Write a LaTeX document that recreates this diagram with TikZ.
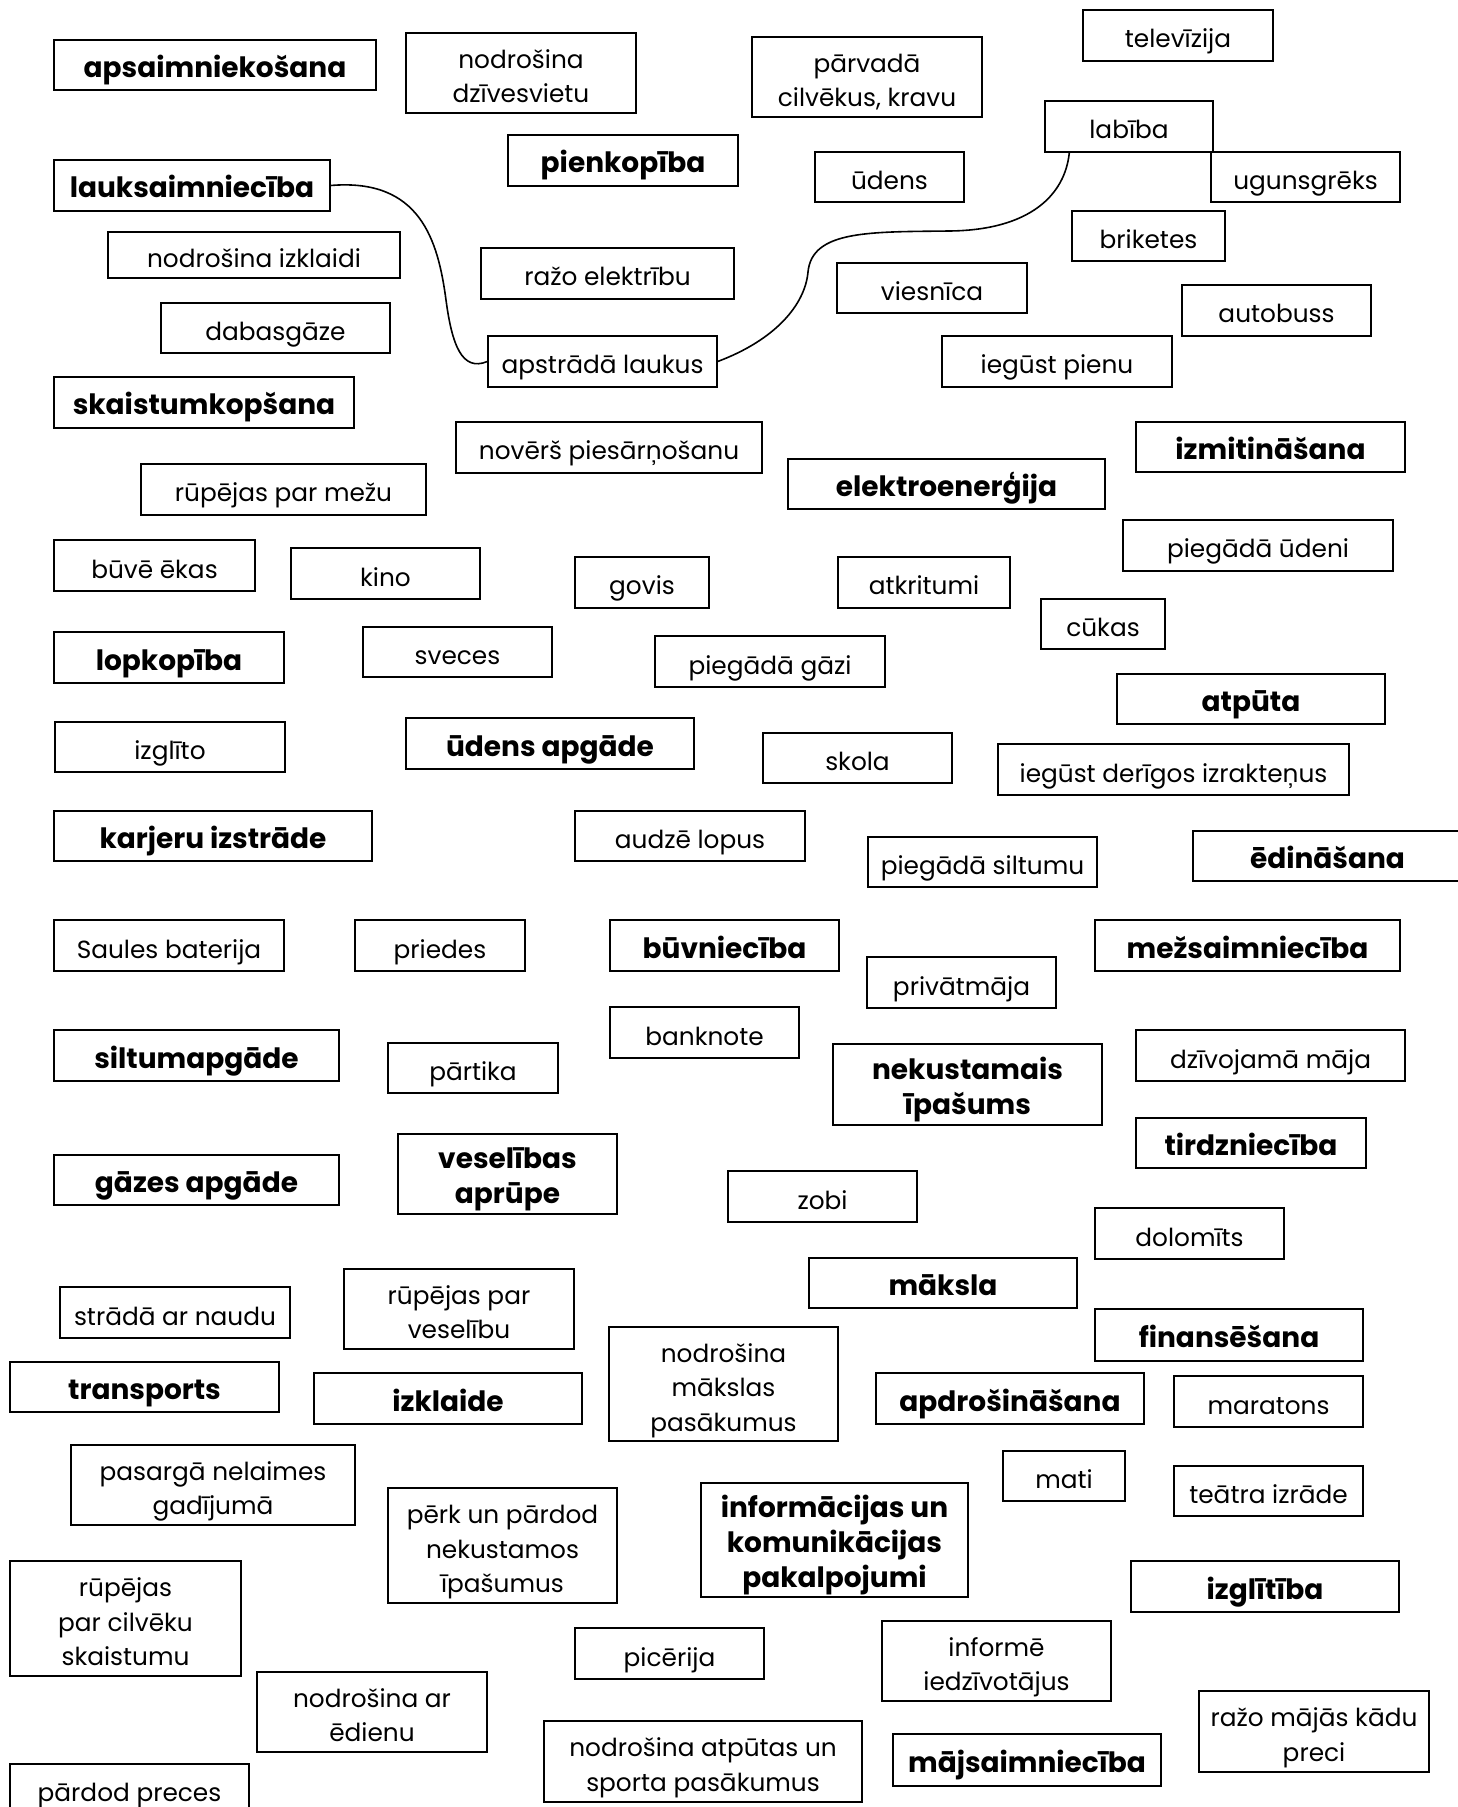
\documentclass[tikz,border=0pt]{standalone}
\usepackage{fontspec}
\setmainfont{Poppins}
\usetikzlibrary{calc}
\tikzset{
  box/.style={draw=black, line width=0.7pt, inner sep=0pt, align=center,
    font=\fontsize{12.4}{17.3}\selectfont, text=black,
    text height=13pt, text depth=0.5pt},
  cat/.style={font=\fontsize{14}{17.5}\selectfont\bfseries},
  ltwo/.style={text height=30.4pt},
  lthree/.style={text height=47.8pt},
  link/.style={draw=black, line width=0.8pt}
}
\newcommand\bx[7][]{%
  \pgfmathsetmacro\bxw{(#5-#3)*0.5}%
  \pgfmathsetmacro\bxh{(#6-#4)*0.5}%
  \node[box,#1,minimum width=\bxw pt,minimum height=\bxh pt] (#2) at ({(#3+#5)/2},{(#4+#6)/2}) {#7};%
}
\begin{document}
\begin{tikzpicture}[x=0.5pt,y=-0.5pt]
\useasboundingbox[fill=white] (0,0) rectangle (1457,1807);
\bx[cat]{apsaim}{54}{40}{376}{90}{apsaimniekošana}
\bx[ltwo]{nodrdz}{406}{33}{636}{113}{nodrošina\\dzīvesvietu}
\bx[ltwo]{parvada}{752}{37}{982}{117}{pārvadā\\cilvēkus, kravu}
\bx{telev}{1083}{10}{1273}{61}{televīzija}
\bx{labiba}{1045}{101}{1213}{152}{labība}
\bx[cat]{pienk}{508}{135}{738}{186}{pienkopība}
\bx[cat]{lauks}{54}{160}{330}{211}{lauksaimniecība}
\bx{udens}{815}{152}{964}{202}{ūdens}
\bx{uguns}{1211}{152}{1400}{202}{ugunsgrēks}
\bx{brik}{1072}{211}{1225}{261}{briketes}
\bx{izkl}{108}{232}{400}{278}{nodrošina izklaidi}
\bx{razoel}{481}{248}{734}{299}{ražo elektrību}
\bx{viesn}{837}{263}{1027}{313}{viesnīca}
\bx{autob}{1182}{285}{1371}{336}{autobuss}
\bx{dabasg}{161}{303}{390}{353}{dabasgāze}
\bx{apstr}{488}{336}{717}{387}{apstrādā laukus}
\bx{iegpien}{942}{336}{1172}{387}{iegūst pienu}
\bx[cat]{skaist}{54}{377}{354}{428}{skaistumkopšana}
\bx{novers}{456}{422}{762}{473}{novērš piesārņošanu}
\bx[cat]{izmit}{1136}{422}{1405}{472}{izmitināšana}
\bx{rupmez}{141}{464}{426}{515}{rūpējas par mežu}
\bx[cat]{elektro}{788}{459}{1105}{509}{elektroenerģija}
\bx{piegud}{1123}{520}{1393}{571}{piegādā ūdeni}
\bx{buve}{54}{540}{255}{591}{būvē ēkas}
\bx{kino}{291}{548}{480}{599}{kino}
\bx{govis}{575}{557}{709}{608}{govis}
\bx{atkr}{838}{557}{1010}{608}{atkritumi}
\bx{cukas}{1041}{599}{1165}{649}{cūkas}
\bx[cat]{lopk}{54}{632}{284}{683}{lopkopība}
\bx{sveces}{363}{627}{552}{677}{sveces}
\bx{piegg}{655}{636}{885}{687}{piegādā gāzi}
\bx[cat]{atputa}{1117}{674}{1385}{724}{atpūta}
\bx{izglito}{55}{722}{285}{772}{izglīto}
\bx[cat]{udapg}{406}{718}{694}{769}{ūdens apgāde}
\bx{skola}{763}{733}{952}{783}{skola}
\bx{izrakt}{998}{744}{1349}{795}{iegūst derīgos izrakteņus}
\bx[cat]{karj}{54}{811}{372}{861}{karjeru izstrāde}
\bx{audze}{575}{811}{805}{861}{audzē lopus}
\bx{piegsilt}{868}{837}{1097}{887}{piegādā siltumu}
\bx[cat]{edin}{1193}{831}{1462}{881}{ēdināšana}
\bx{saules}{54}{920}{284}{971}{Saules baterija}
\bx{priedes}{355}{920}{525}{971}{priedes}
\bx[cat]{buvn}{610}{920}{839}{971}{būvniecība}
\bx[cat]{mezs}{1095}{920}{1400}{971}{mežsaimniecība}
\bx{privat}{867}{957}{1056}{1008}{privātmāja}
\bx{bankn}{610}{1007}{799}{1058}{banknote}
\bx[cat]{siltum}{54}{1030}{339}{1081}{siltumapgāde}
\bx{partika}{388}{1043}{558}{1093}{pārtika}
\bx[cat,ltwo]{nekust}{833}{1044}{1102}{1125}{nekustamais\\īpašums}
\bx{dzivoj}{1136}{1030}{1405}{1081}{dzīvojamā māja}
\bx[cat]{tirdz}{1136}{1118}{1366}{1168}{tirdzniecība}
\bx[cat]{gazes}{54}{1155}{339}{1205}{gāzes apgāde}
\bx[cat,ltwo]{vesel}{398}{1134}{617}{1214}{veselības\\aprūpe}
\bx{zobi}{728}{1171}{917}{1222}{zobi}
\bx{dolom}{1095}{1208}{1284}{1259}{dolomīts}
\bx[cat]{maksla}{809}{1258}{1077}{1308}{māksla}
\bx{stradaa}{60}{1287}{290}{1338}{strādā ar naudu}
\bx[ltwo]{rupves}{344}{1269}{574}{1349}{rūpējas par\\veselību}
\bx[lthree]{nodrmaks}{609}{1327}{838}{1441}{nodrošina\\mākslas\\pasākumus}
\bx[cat]{finans}{1095}{1309}{1363}{1361}{finansēšana}
\bx[cat]{transp}{10}{1362}{279}{1412}{transports}
\bx[cat]{izklaide}{314}{1373}{582}{1424}{izklaide}
\bx[cat]{apdros}{876}{1373}{1144}{1424}{apdrošināšana}
\bx{marat}{1174}{1376}{1363}{1427}{maratons}
\bx[ltwo]{pasarga}{71}{1445}{355}{1525}{pasargā nelaimes\\gadījumā}
\bx{mati}{1003}{1451}{1125}{1501}{mati}
\bx{teatra}{1174}{1466}{1363}{1516}{teātra izrāde}
\bx[lthree]{perk}{388}{1488}{617}{1603}{pērk un pārdod\\nekustamos\\īpašumus}
\bx[cat,lthree]{infok}{701}{1483}{968}{1597}{informācijas un\\komunikācijas\\pakalpojumi}
\bx[cat]{izglitiba}{1131}{1561}{1399}{1612}{izglītība}
\bx[lthree]{rupcilv}{10}{1561}{241}{1676}{rūpējas\\par cilvēku\\skaistumu}
\bx[ltwo]{informe}{882}{1621}{1111}{1701}{informē\\iedzīvotājus}
\bx{picerija}{575}{1628}{764}{1679}{picērija}
\bx[ltwo]{nodredien}{257}{1672}{487}{1752}{nodrošina ar\\ēdienu}
\bx[ltwo]{razomaj}{1199}{1691}{1429}{1772}{ražo mājās kādu\\preci}
\bx[ltwo]{nodratp}{544}{1721}{862}{1802}{nodrošina atpūtas un\\sporta pasākumus}
\bx[cat]{majsaim}{893}{1734}{1161}{1786}{mājsaimniecība}
\bx{pardod}{10}{1764}{249}{1814}{pārdod preces}
% connectors
\draw[link] (lauks.east) .. controls (420,178) and (438,240) .. (446,300)
  .. controls (452,345) and (462,372) .. (apstr.west);
\draw[link] (apstr.east) .. controls (775,340) and (805,305) .. (808,272)
  .. controls (812,230) and (870,232) .. (950,231)
  .. controls (1030,230) and (1065,195) .. ($(labiba.south west)+(25,0)$);
\end{tikzpicture}
\end{document}
